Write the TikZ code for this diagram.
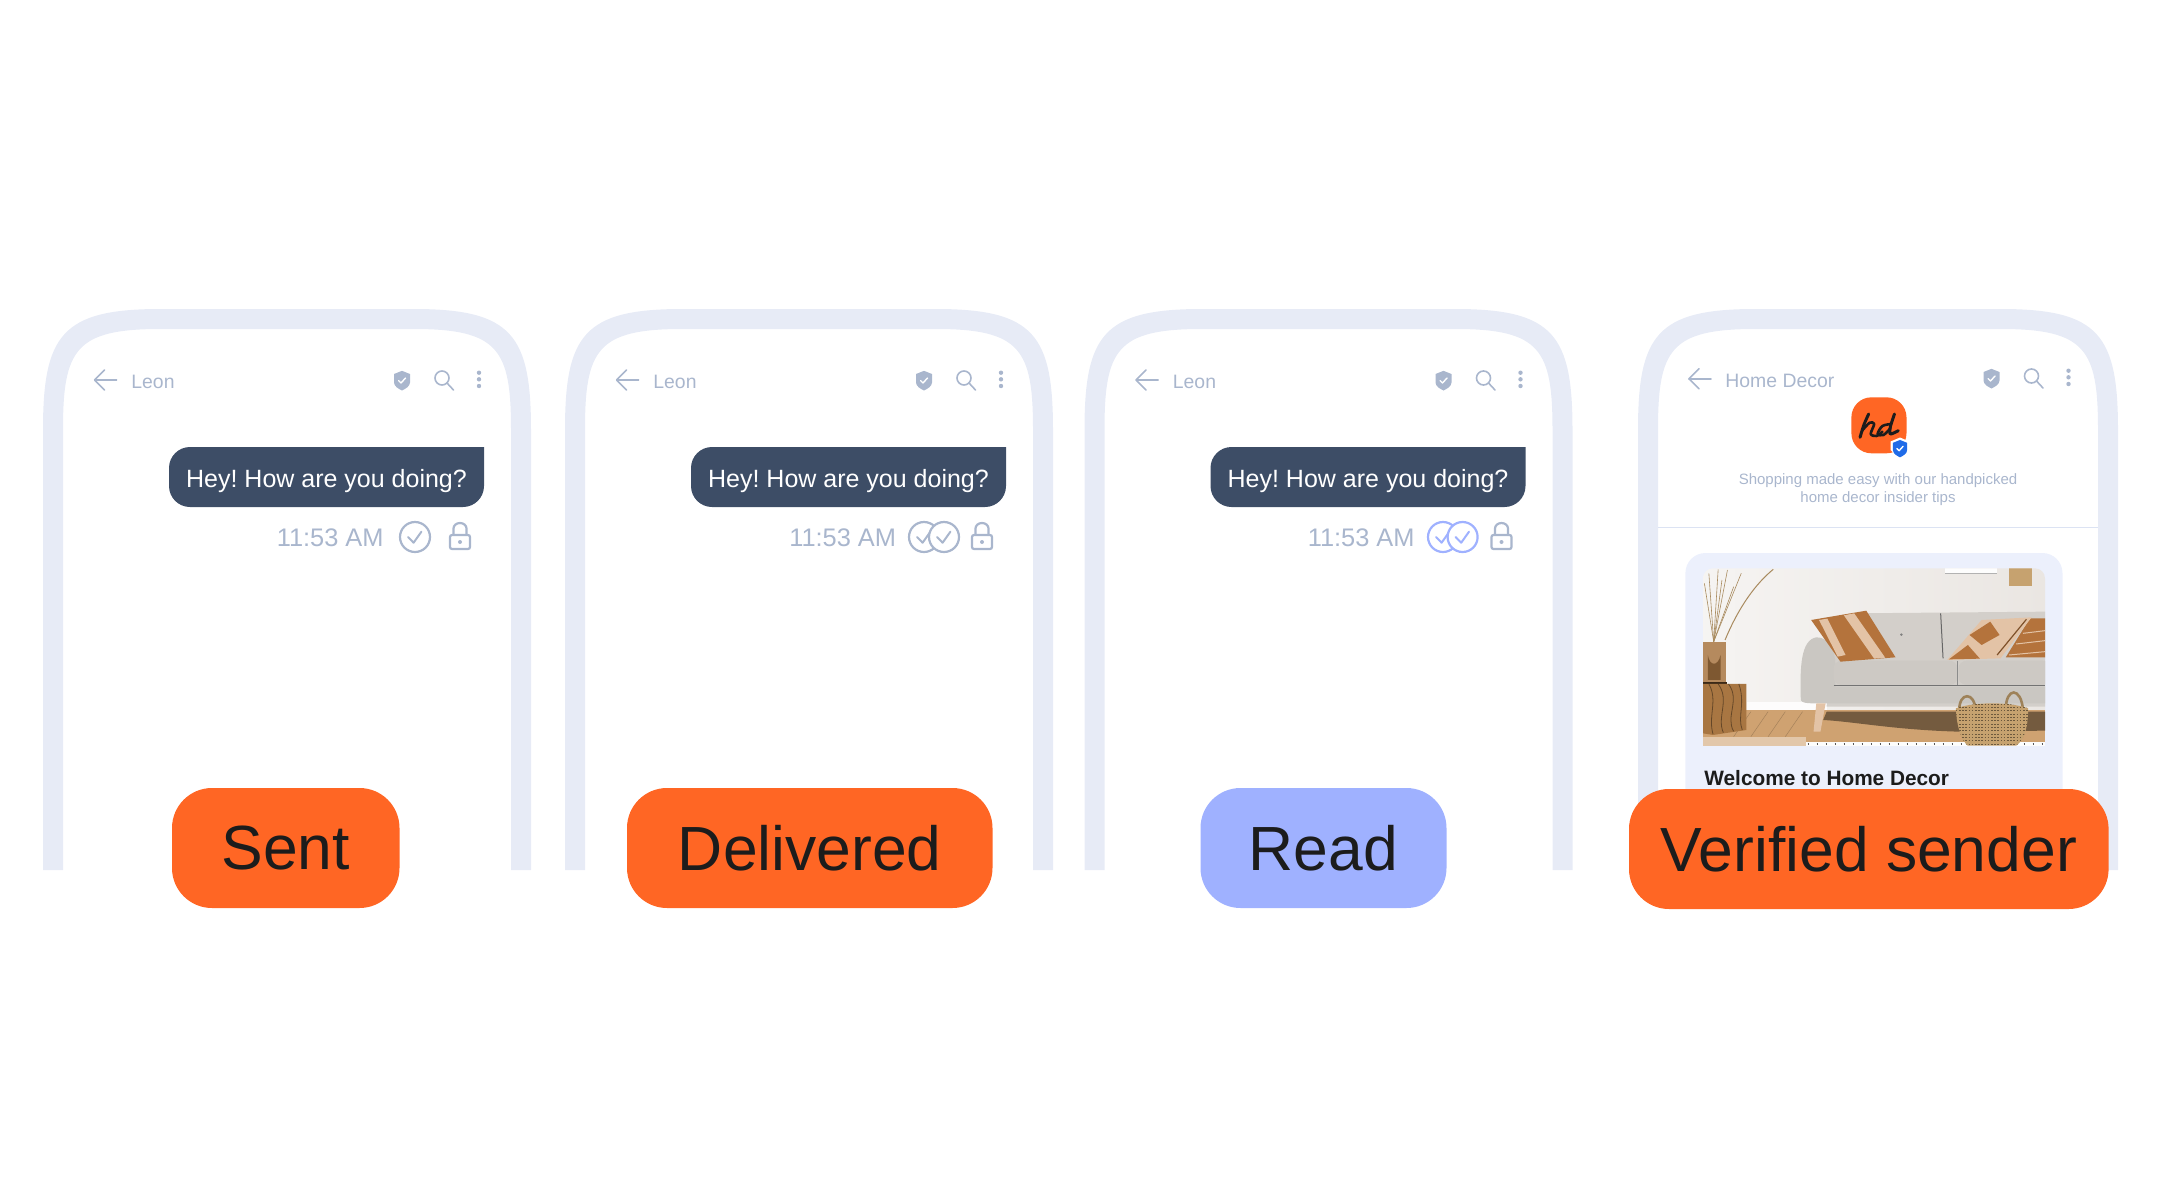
\documentclass[tikz,border=0pt]{standalone}
\usepackage{fontspec}
\setmainfont{Liberation Sans}
\definecolor{framecol}{HTML}{E7EBF6}
\definecolor{bubblecol}{HTML}{3D4D66}
\definecolor{iconcol}{HTML}{A9B6CD}
\definecolor{inkcol}{HTML}{1C1C1C}
\definecolor{orangecol}{HTML}{FF6624}
\definecolor{readcol}{HTML}{9FB1FF}
\definecolor{cardcol}{HTML}{ECF0FC}
\definecolor{rulecol}{HTML}{DCE3F3}
\definecolor{shieldcol}{HTML}{1F6BE8}
\definecolor{wallcol}{HTML}{EAE6E2}
\definecolor{sofacol}{HTML}{D3CFCA}
\definecolor{seatcol}{HTML}{CDC9C4}
\definecolor{browncol}{HTML}{B4733C}
\definecolor{sandcol}{HTML}{E3C3A6}
\definecolor{floorcol}{HTML}{CFA271}
\definecolor{woodcol}{HTML}{A87642}
\definecolor{wickercol}{HTML}{C6A26F}
\tikzset{
  pill/.style={shape=rectangle,rounded corners=20pt,inner sep=0pt,minimum height=60pt,
    text=inkcol,font=\fontsize{31.2}{31.2}\selectfont},
  bubbletext/.style={anchor=base,inner sep=0pt,text=white,font=\fontsize{12.5}{12.5}\selectfont},
  timetext/.style={anchor=base east,inner sep=0pt,text=iconcol,font=\fontsize{12.7}{12.7}\selectfont},
  headtext/.style={anchor=base west,inner sep=0pt,text=iconcol,font=\fontsize{9.7}{9.7}\selectfont},
  icon/.style={draw=iconcol,line width=1.1pt},
  thinicon/.style={draw=iconcol,line width=0.8pt,line cap=round,line join=round}
}
\newcommand{\phoneframe}[2]{
  \begin{scope}[shift={(#1,0)}]
    \fill[framecol] (0,870) -- (0,430) .. controls (0,335) and (19,309) .. (117,309)
      -- ({#2-117},309) .. controls ({#2-19},309) and (#2,335) .. (#2,430) -- (#2,870)
      -- ({#2-20},870) -- ({#2-20},430) .. controls ({#2-20},350) and ({#2-32},329) .. ({#2-117},329)
      -- (117,329) .. controls (32,329) and (20,350) .. (20,430) -- (20,870) -- cycle;
  \end{scope}
}
\newcommand{\backarrow}[2]{
  \draw[thinicon] (#1,#2) -- ({#1+22},#2);
  \draw[thinicon] ({#1+10},{#2-10}) -- (#1,#2) -- ({#1+10},{#2+10});
}
\newcommand{\shieldicon}[4]{
  \begin{scope}[shift={(#1,#2)},scale=#3]
    \fill[#4] (0,-9.7) -- (8,-6.5) -- (8,2) .. controls (8,6) and (3,8.5) .. (0,10)
      .. controls (-3,8.5) and (-8,6) .. (-8,2) -- (-8,-6.5) -- cycle;
    \draw[white,line width=0.7pt,line cap=round,line join=round] (-3.5,0) -- (-1,2.5) -- (3.5,-2.5);
  \end{scope}
}
\newcommand{\headicons}[2]{
  \begin{scope}[shift={(#1,#2)}]
    \shieldicon{402}{380.5}{1}{iconcol}
    \draw[thinicon] (442,378) circle (7);
    \draw[thinicon] (447,383) -- (453.5,390);
    \fill[iconcol] (479,372.7) circle (2.2) (479,379.3) circle (2.2) (479,386) circle (2.2);
  \end{scope}
}
\newcommand{\checkring}[3]{
  \draw[#2,fill=#3,line width=1.1pt] (#1,537) circle (15);
  \draw[#2,line width=1pt,line cap=round,line join=round]
    ({#1-7},537) -- ({#1-1.4},542.7) -- ({#1+6.4},531.7);
}
\newcommand{\chatbody}[3]{
  \begin{scope}[shift={(#1,0)}]
    \backarrow{94.6}{380}
    \node[headtext] (leon#2) at (131,388) {Leon};
    \headicons{0}{0}
    \fill[bubblecol] (484,447) [rounded corners=10.5pt] -- (484,507) -- (169,507) -- (169,447) -- (484,447);
    \node[bubbletext] (bubble#2) at (326.5,487) {Hey! How are you doing?};
    \node[timetext] (time#2) at (#3,546) {11:53 AM};
    \draw[icon,rounded corners=1pt] (450,535) rectangle (470,549);
    \draw[icon] (453.5,535) -- (453.5,528.5) arc[start angle=180,end angle=360,x radius=6.5,y radius=5.5] -- (466.5,535);
    \fill[iconcol] (460,542) circle (2);
  \end{scope}
}
\frenchspacing
\begin{document}
\begin{tikzpicture}[x=0.5pt,y=-0.5pt]
  \useasboundingbox (0,0) rectangle (2160,1200);
  \phoneframe{43}{488}
  \phoneframe{565}{488}
  \phoneframe{1084.5}{488}
  \phoneframe{1638}{480}

  \chatbody{0}{a}{384}
  \checkring{415}{iconcol}{none}
  \chatbody{522}{b}{374.5}
  \checkring{924}{iconcol}{none}
  \checkring{944}{iconcol}{white}
  \chatbody{1041.5}{c}{373.5}
  \checkring{1443}{readcol}{none}
  \checkring{1462.6}{readcol}{white}

  \backarrow{1689}{378.7}
  \node[headtext] (homename) at (1725,387) {Home Decor};
  \headicons{1589.5}{-2}
  \fill[orangecol,rounded corners=10pt] (1851.4,397.3) rectangle (1906.5,453.3);
  \begin{scope}[shift={(1620,280)},xscale=0.3444,yscale=0.3333]
    \draw[inkcol,line width=1.5pt,line cap=round]
      plot[smooth] coordinates {(722,402) (708,435) (697,472)};
    \draw[inkcol,line width=1.3pt,line cap=round,line join=round]
      plot[smooth] coordinates {(703,452) (725,428) (738,432) (728,462) (745,468) (762,455)};
    \draw[inkcol,line width=1.3pt,line cap=round,line join=round]
      plot[smooth] coordinates {(788,432) (762,438) (748,462) (765,465) (785,445)};
    \draw[inkcol,line width=1.5pt,line cap=round,line join=round]
      plot[smooth] coordinates {(797,402) (785,440) (785,462) (808,452)};
  \end{scope}
  \fill[white] (1900,437.5) -- (1909.5,441.5) -- (1909.5,450) -- (1900,459.5) -- (1890.5,450) -- (1890.5,441.5) -- cycle;
  \shieldicon{1900}{448.5}{0.88}{shieldcol}
  \node[inner sep=0pt,align=center,text=iconcol,font=\fontsize{7.5}{9}\selectfont] (tagline) at (1878,489.5)
    {Shopping made easy with our handpicked\\home decor insider tips};
  \coordinate (ruleleft) at (1658,527.3);
  \coordinate (ruleright) at (2098,527.3);
  \draw[rulecol,line width=0.8pt] (ruleleft) -- (ruleright);
  \fill[cardcol] (1685.4,870) [rounded corners=10pt] -- (1685.4,553) -- (2062.5,553) -- (2062.5,870);

  \begin{scope}[shift={(1620,540)},xscale=0.3444,yscale=0.3333]
    \clip (241,618) [rounded corners=5pt] -- (241,85) -- (1234,85) -- (1234,618);
    \shade[left color=wallcol!45!white,right color=wallcol] (241,85) rectangle (1234,520);
    \fill[white!93!wallcol] (945,85) rectangle (1095,100);
    \draw[gray!60,line width=0.4pt] (945,100) -- (1095,100);
    \fill[wickercol] (1128,85) rectangle (1195,138);
    \fill[white!90!wallcol] (370,485) rectangle (600,512);
    \fill[floorcol] (241,510) rectangle (1234,618);
    \foreach \seamx in {380,430,480,530} {
      \draw[floorcol!80!black,line width=0.25pt] (\seamx,515) -- ({\seamx-50},590);
    }
    \fill[floorcol!45!black!80!floorcol] (600,515) -- (1234,515) -- (1234,572) -- (985,575) .. controls (800,570) and (680,545) .. (590,540) -- cycle;
    \fill[floorcol!60!white] (241,590) rectangle (540,618);
    \fill[white!92!wallcol] (540,605) rectangle (1234,618);
    \draw[black!65,line width=0.6pt,dash pattern=on 0.5pt off 4pt] (545,612) -- (1234,612);
    \foreach \tipx/\tipy in {245/130,258/100,285/88,296/120,312/90,330/140,352/100} {
      \draw[wickercol!85!black,line width=0.3pt] (272,305) -- (\tipx,\tipy);
    }
    \draw[wickercol!85!black,line width=0.5pt] (305,300) .. controls (345,200) and (395,130) .. (445,88);
    \fill[woodcol!85!white] (241,305) rectangle (308,425);
    \fill[woodcol!75!black] (255,345) .. controls (260,380) and (285,380) .. (292,345) -- (292,420) -- (255,420) -- cycle;
    \fill[black!65!woodcol] (241,425) rectangle (310,432);
    \fill[woodcol] (241,432) -- (367,432) -- (367,570) -- (270,585) -- (241,580) -- cycle;
    \draw[woodcol!60!black,line width=0.4pt] (285,432) .. controls (320,480) and (280,530) .. (300,578)
      (315,432) .. controls (350,480) and (305,530) .. (330,574)
      (258,432) .. controls (285,480) and (255,530) .. (270,582)
      (345,432) .. controls (365,490) and (340,530) .. (355,570);
    \fill[sofacol] (600,500) -- (610,300) .. controls (620,230) and (640,222) .. (680,220) -- (1234,215) -- (1234,500) -- cycle;
    \draw[black!60,line width=0.5pt] (931,220) -- (938,355);
    \fill[gray] (817,284) circle (4);
    \fill[sofacol!96!black] (525,480) .. controls (522,380) and (525,300) .. (570,292) .. controls (610,290) and (625,340) .. (625,370) -- (625,440) -- (1234,440) -- (1234,490) -- (560,490) .. controls (540,490) and (528,488) .. (525,480) -- cycle;
    \fill[seatcol,rounded corners=4pt] (620,362) rectangle (980,435);
    \fill[seatcol,rounded corners=4pt] (983,362) rectangle (1250,435);
    \draw[black!55,line width=0.5pt] (620,437) -- (1234,437);
    \draw[black!45,line width=0.4pt] (981,362) -- (981,435);
    \fill[sandcol] (570,490) -- (597,490) -- (582,575) -- (562,575) -- cycle;
    \fill[browncol] (555,240) -- (715,212) -- (800,352) -- (640,365) -- cycle;
    \fill[sandcol] (578,240) -- (602,236) -- (655,345) -- (632,350) -- cycle;
    \fill[sandcol] (650,226) -- (680,220) -- (770,353) -- (738,356) -- cycle;
    \fill[browncol] (1120,352) -- (1190,235) -- (1240,235) -- (1240,352) -- cycle;
    \draw[sandcol,line width=0.5pt] (1170,280) -- (1234,272) (1150,312) -- (1234,302) (1130,345) -- (1234,335);
    \fill[sandcol] (950,360) -- (1050,240) -- (1195,232) -- (1105,355) -- cycle;
    \fill[browncol] (1015,285) -- (1075,245) -- (1102,285) -- (1050,315) -- cycle;
    \fill[browncol] (955,358) -- (1010,315) -- (1045,356) -- cycle;
    \draw[browncol!70!black,line width=0.6pt] (1095,345) -- (1180,238);
    \draw[wickercol!80!black,line width=1.3pt] (985,510) .. controls (985,455) and (1030,455) .. (1032,510);
    \draw[wickercol!80!black,line width=1.3pt] (1120,510) .. controls (1120,440) and (1165,440) .. (1170,510);
    \fill[wickercol] (975,505) .. controls (1030,485) and (1130,485) .. (1185,505) .. controls (1185,560) and (1175,600) .. (1150,617) -- (1010,617) .. controls (990,600) and (978,560) .. (975,505) -- cycle;
    \begin{scope}
      \clip (975,505) .. controls (1030,485) and (1130,485) .. (1185,505) .. controls (1185,560) and (1175,600) .. (1150,617) -- (1010,617) .. controls (990,600) and (978,560) .. (975,505) -- cycle;
      \foreach \rowy in {492,502,512,522,532,542,552,562,572,582,592,602,612} {
        \draw[wickercol!55!black,line width=0.35pt,dash pattern=on 0.8pt off 0.8pt] (975,\rowy) -- (1185,\rowy);
      }
    \end{scope}
  \end{scope}
  \node[anchor=base west,inner sep=0pt,text=inkcol,font=\bfseries\fontsize{10.4}{10.4}\selectfont] (welcome) at (1704,785) {Welcome to Home Decor};

  \node[pill,fill=orangecol,minimum width=113.75pt] (sent) at (285.75,848) {Sent};
  \node[pill,fill=orangecol,minimum width=182.75pt] (delivered) at (809.75,848) {Delivered};
  \node[pill,fill=readcol,minimum width=123pt] (read) at (1323.5,848) {Read};
  \node[pill,fill=orangecol,minimum width=239.8pt] (verified) at (1868.8,849) {Verified sender};
\end{tikzpicture}
\end{document}
